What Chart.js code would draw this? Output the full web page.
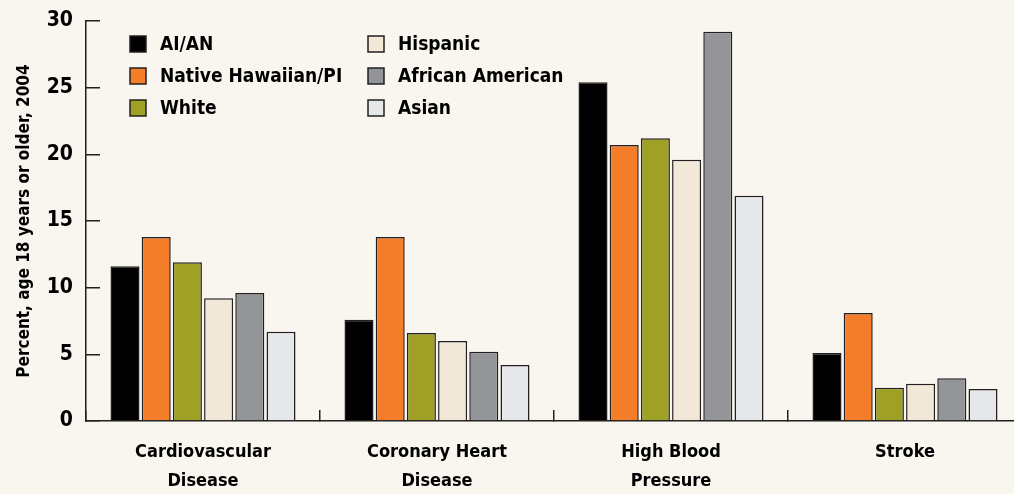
<!DOCTYPE html>
<html>
<head>
<meta charset="utf-8">
<script src="https://cdn.jsdelivr.net/npm/chart.js@4"></script>
<style>
  html, body { margin: 0; padding: 0; background: #f9f5ef; overflow: hidden; }
  #wrap { width: 1014px; height: 494px; overflow: hidden; }
</style>
</head>
<body>
<div id="wrap"><canvas id="chart" width="1024" height="494"></canvas></div>
<script>
// ---- datos ----
const categorias = [
    ['Cardiovascular', 'Disease'],
    ['Coronary Heart', 'Disease'],
    ['High Blood', 'Pressure'],
    ['Stroke']
];
const grupos = ['AI/AN', 'Native Hawaiian/PI', 'White', 'Hispanic', 'African American', 'Asian'];

const aian      = [11.6, 7.6, 25.4, 5.1];
const hawaiian  = [13.8, 13.8, 20.7, 8.1];
const white     = [11.9, 6.6, 21.2, 2.5];
const hispanic  = [9.2, 6.0, 19.6, 2.8];
const africanAm = [9.6, 5.2, 29.2, 3.2];
const asian     = [6.7, 4.2, 16.9, 2.4];

const yTicks = [0, 5, 10, 15, 20, 25, 30];

// ---- colores ----
const COLORES = ['#000000', '#f47d2a', '#9fa125', '#f2e8d7', '#939598', '#e6e7e8'];
const BORDE = '#231f20';
const FUENTE = "'Liberation Sans Narrow', 'DejaVu Sans Condensed', 'Roboto', sans-serif";

const series = [aian, hawaiian, white, hispanic, africanAm, asian];

// leyenda en dos columnas (orden por columnas)
const leyenda = {
    id: 'leyenda',
    afterDraw(chart) {
        const ctx = chart.ctx;
        const cols = [130, 368];
        const filas = [44, 76, 108];
        ctx.save();
        ctx.font = 'bold 19px ' + FUENTE;
        ctx.textBaseline = 'middle';
        chart.data.datasets.forEach((ds, i) => {
            const x = cols[Math.floor(i / 3)];
            const y = filas[i % 3];
            ctx.fillStyle = ds.backgroundColor;
            ctx.fillRect(x, y - 8, 16, 16);
            ctx.strokeStyle = BORDE;
            ctx.lineWidth = 1.5;
            ctx.strokeRect(x, y - 8, 16, 16);
            ctx.fillStyle = '#000';
            ctx.fillText(ds.label, x + 30, y + 1);
        });
        ctx.restore();
    }
};

new Chart(document.getElementById('chart'), {
    type: 'bar',
    data: {
        labels: categorias,
        datasets: grupos.map((g, i) => ({
            label: g,
            data: series[i],
            backgroundColor: COLORES[i],
            borderColor: BORDE,
            borderWidth: 1.5,
            categoryPercentage: 0.8,
            barPercentage: 0.93
        }))
    },
    options: {
        responsive: false,
        animation: false,
        layout: { padding: { top: 21, right: 2, left: 0, bottom: 0 } },
        plugins: {
            legend: { display: false },
            tooltip: { enabled: false }
        },
        scales: {
            x: {
                grid: {
                    drawOnChartArea: false,
                    tickLength: -11,
                    color: BORDE,
                    lineWidth: 1.5
                },
                border: { color: BORDE, width: 1.5 },
                ticks: {
                    color: '#000',
                    padding: 27,
                    maxRotation: 0,
                    font: { family: FUENTE, size: 18, weight: 'bold', lineHeight: 1.65 }
                },
                afterFit: s => { s.height = 73; s.paddingLeft = 0; s.paddingRight = 0; }
            },
            y: {
                min: 0,
                max: 30,
                afterBuildTicks: s => { s.ticks = yTicks.map(v => ({ value: v })); },
                grid: {
                    drawOnChartArea: false,
                    tickLength: -14,
                    color: BORDE,
                    lineWidth: 1.5
                },
                border: { color: BORDE, width: 1.5 },
                ticks: {
                    color: '#000',
                    padding: 27,
                    font: { family: FUENTE, size: 21, weight: 'bold' }
                },
                title: {
                    display: true,
                    text: 'Percent, age 18 years or older, 2004',
                    color: '#000',
                    padding: { top: 14, bottom: 0 },
                    font: { family: FUENTE, size: 17, weight: 'bold' }
                },
                afterFit: s => { s.width = 86; s.paddingTop = 0; s.paddingBottom = 0; }
            }
        }
    },
    plugins: [leyenda]
});
</script>
</body>
</html>
